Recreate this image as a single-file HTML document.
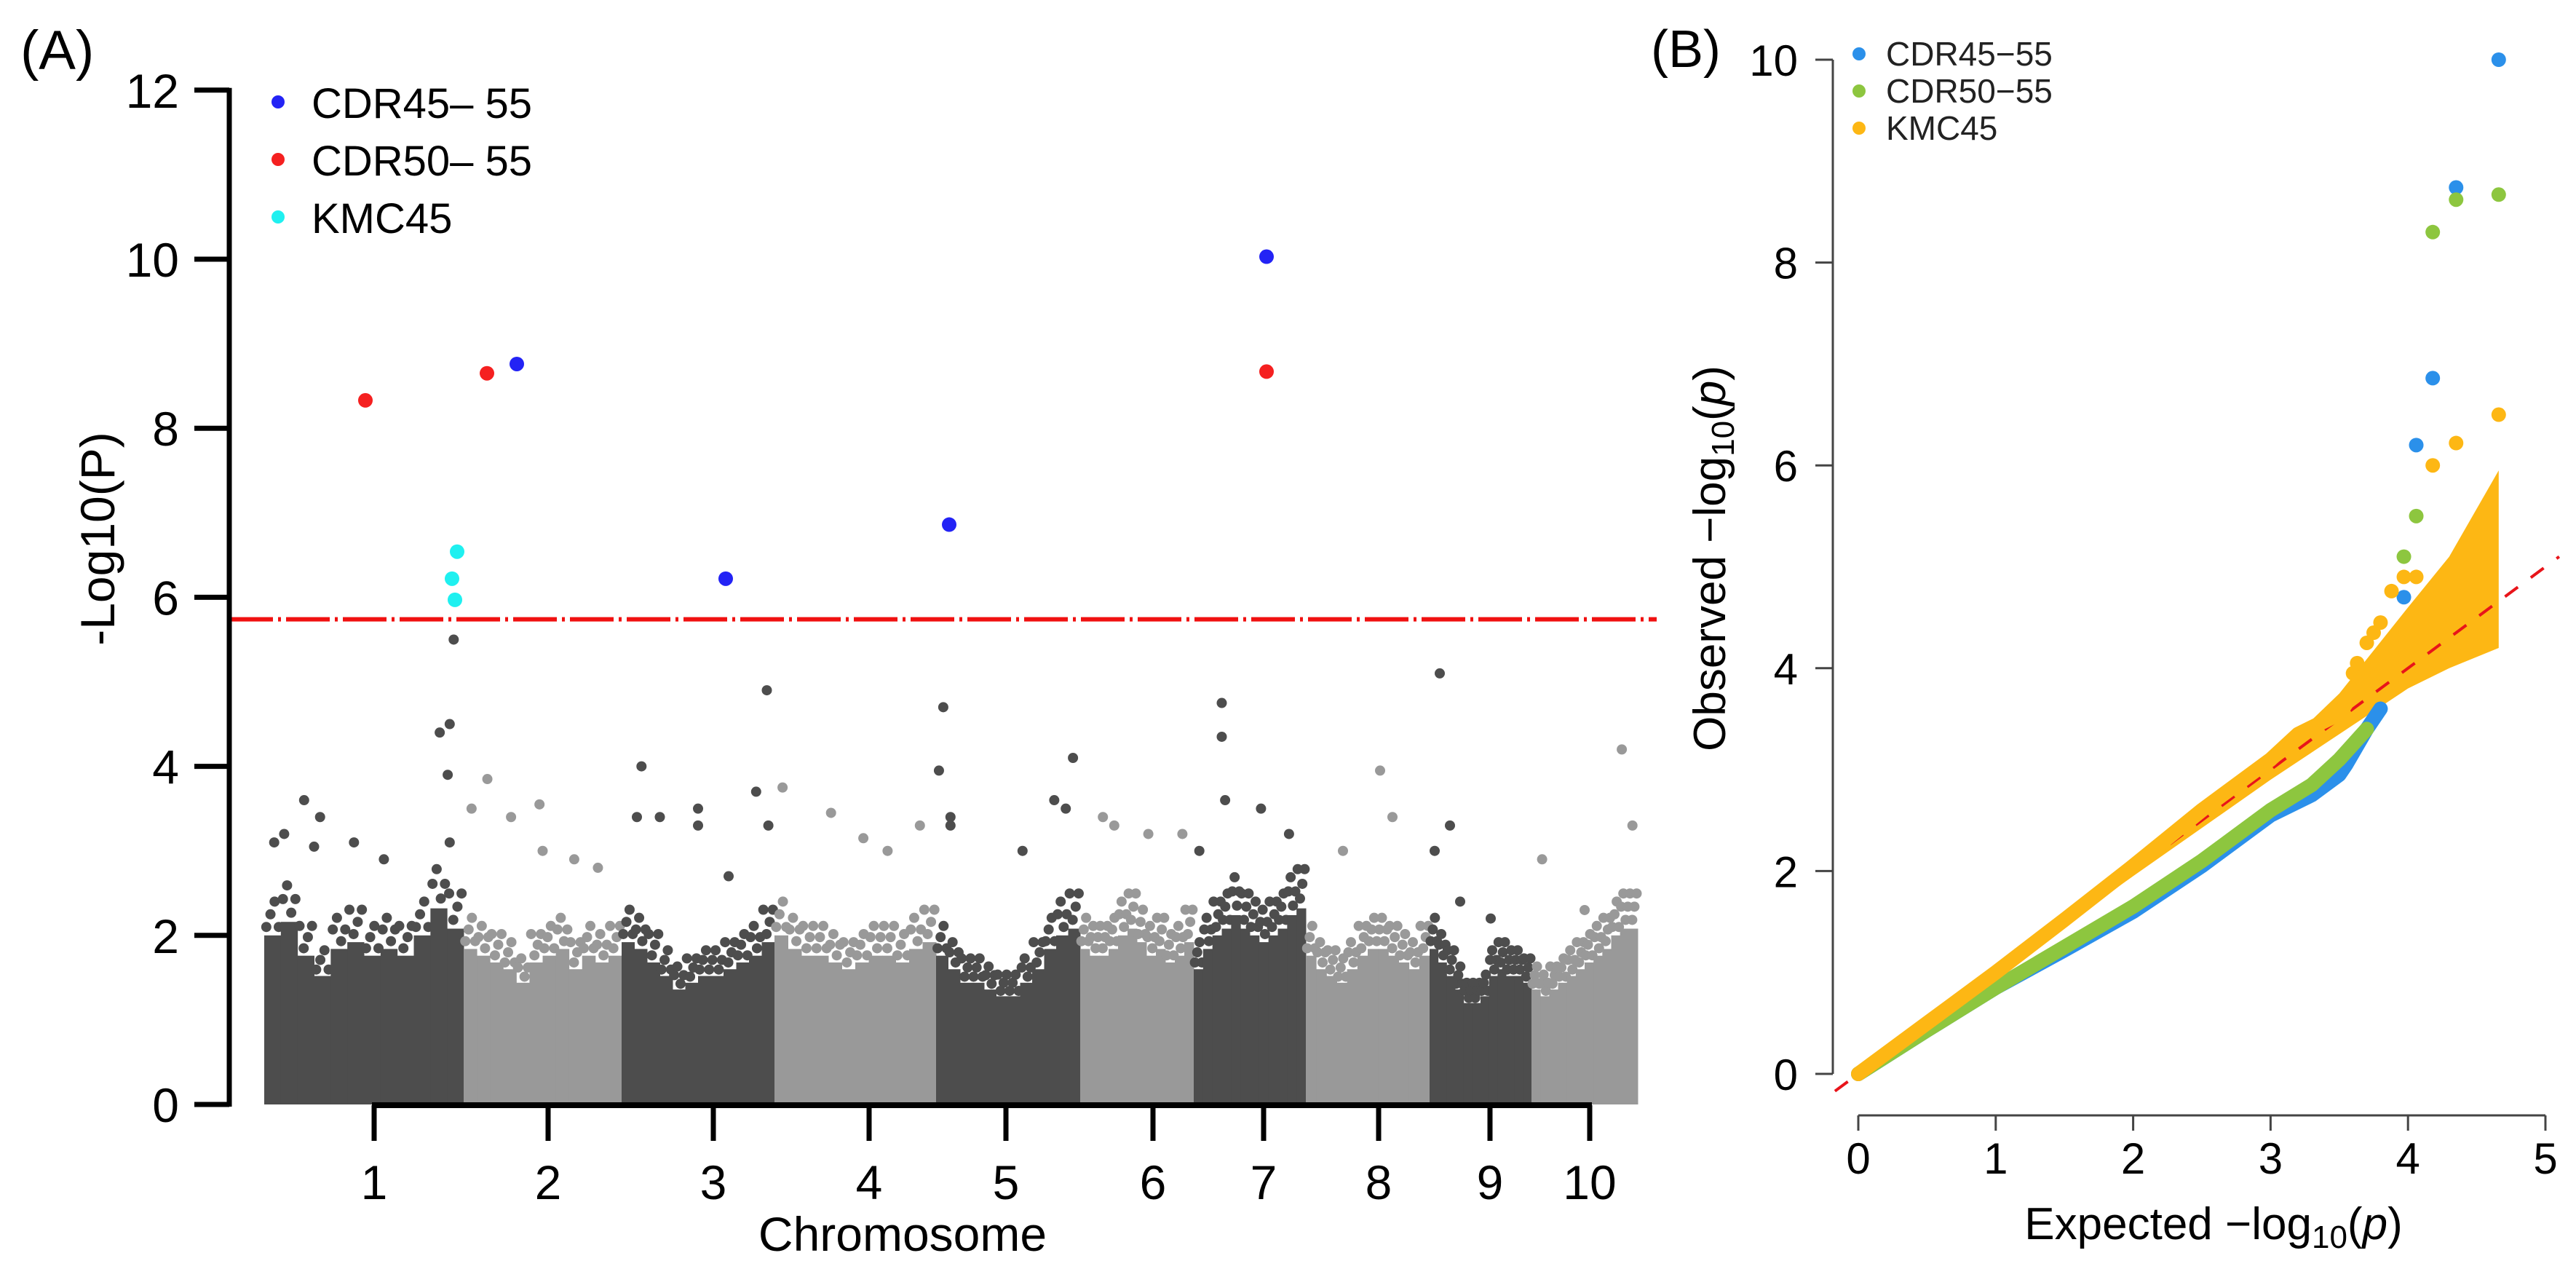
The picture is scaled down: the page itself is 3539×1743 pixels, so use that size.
<!DOCTYPE html>
<html><head><meta charset="utf-8">
<style>
html,body{margin:0;padding:0;background:#fff;}
svg{display:block;font-family:"Liberation Sans",Arial,sans-serif;}
</style></head>
<body>
<svg id="fig" width="3539" height="1743" viewBox="0 0 3539 1743" xmlns="http://www.w3.org/2000/svg">
<g id="panelA"></g>
<g id="panelB"></g>
</svg>
<script>
// ---------- Panel A data ----------
const chromosomes = ["1","2","3","4","5","6","7","8","9","10"];
const chromStarts = [0,274,491,701,923,1121,1277,1431,1601,1741];
const chromEnds   = [274,491,701,923,1121,1277,1431,1601,1741,1887];
const chromTickPos = [151,390,617,831,1019,1221,1373,1531,1684,1821];
const yTicksA = [0,2,4,6,8,10,12];
const threshold = 5.74;
const binTops = [
 [2.5,2.7,2.2,1.9,2.3,2.4,2.2,2.3,2.2,2.5,2.9,2.6],
 [2.3,2.2,2.1,2.0,1.8,2.1,2.2,2.3,2.0,2.2,2.1,2.2],
 [2.4,2.3,2.1,1.9,1.7,1.8,1.9,1.9,2.0,2.1,2.2,2.4],
 [2.5,2.3,2.2,2.2,2.1,2.0,2.1,2.2,2.2,2.1,2.3,2.4],
 [2.2,2.0,1.8,1.8,1.7,1.6,1.6,1.8,2.0,2.3,2.5,2.6],
 [2.3,2.2,2.2,2.3,2.5,2.6,2.4,2.2,2.3,2.1,2.2,2.4],
 [2.0,2.3,2.5,2.6,2.8,2.6,2.5,2.4,2.5,2.6,2.8,2.9],
 [2.2,2.0,1.9,1.8,2.0,2.2,2.3,2.3,2.2,2.1,2.0,2.2],
 [2.3,2.1,1.9,1.7,1.5,1.5,1.6,1.9,2.0,1.9,1.9,1.8],
 [1.7,1.6,1.7,1.8,1.9,2.0,2.1,2.2,2.3,2.5,2.6,2.6]
];
const outChrom = [0,0,0,0,0,0,0,0,0,0,0,0, 1,1,1,1,1,1,1, 2,2,2,2,2,2,2,2,2, 3,3,3,3,3, 4,4,4,4,4,4,4,4, 5,5,5,5, 6,6,6,6,6,6, 7,7,7, 8,8,8,8,8, 9,9,9,9];
const outFrac  = [0.05,0.1,0.2,0.28,0.25,0.45,0.6,0.88,0.93,0.92,0.95,0.93, 0.05,0.15,0.3,0.48,0.5,0.7,0.85, 0.1,0.13,0.25,0.5,0.5,0.7,0.88,0.95,0.96, 0.05,0.35,0.55,0.7,0.9, 0.02,0.05,0.1,0.1,0.6,0.82,0.9,0.95, 0.2,0.3,0.6,0.9, 0.05,0.25,0.25,0.28,0.6,0.85, 0.3,0.6,0.7, 0.05,0.2,0.1,0.3,0.6, 0.1,0.5,0.85,0.95];
const outVal   = [3.1,3.2,3.6,3.4,3.05,3.1,2.9,4.4,4.5,3.9,5.5,3.1, 3.5,3.85,3.4,3.55,3.0,2.9,2.8, 3.4,4.0,3.4,3.5,3.3,2.7,3.7,4.9,3.3, 3.75,3.45,3.15,3.0,3.3, 3.95,4.7,3.4,3.3,3.0,3.6,3.5,4.1, 3.4,3.3,3.2,3.2, 3.0,4.75,4.35,3.6,3.5,3.2, 3.0,3.95,3.4, 3.0,3.3,5.1,2.4,2.2, 2.9,2.3,4.2,3.3];
const sigPos  = [347,634,941,1377,139,306,1377,265,258,262];
const sigVal  = [8.76,6.22,6.86,10.03,8.33,8.65,8.67,6.54,6.22,5.97];
const sigSeries = [0,0,0,0,1,1,1,2,2,2];
const seriesA = ["CDR45\u2013 55","CDR50\u2013 55","KMC45"];
const colorsA = ["#2323f5","#f52020","#1ff0f0"];

// ---------- Panel B data ----------
const yTicksB = [0,2,4,6,8,10];
const xTicksB = [0,1,2,3,4,5];
const seriesB = ["CDR45\u221255","CDR50\u221255","KMC45"];
const colorsB = ["#2b90ea","#8dc63f","#fdb714"];
const blueX = [0,0.5,1,1.5,2,2.5,3,3.3,3.5,3.55,3.7,3.8];
const blueY = [0,0.43,0.85,1.22,1.6,2.05,2.55,2.75,2.95,3.05,3.4,3.6];
const greenX = [0,0.5,1,1.5,2,2.5,3,3.3,3.5,3.7];
const greenY = [0,0.43,0.85,1.25,1.65,2.1,2.6,2.85,3.1,3.4];
const orangeX = [0,0.5,1,1.5,2,2.5,3,3.2,3.5,3.55];
const orangeY = [0,0.5,1.0,1.52,2.05,2.6,3.1,3.35,3.55,3.65];
const bluePtX = [3.97,4.06,4.18,4.35,4.66];
const bluePtY = [4.7,6.2,6.86,8.74,10.0];
const greenPtX = [3.97,4.06,4.18,4.35,4.66];
const greenPtY = [5.1,5.5,8.3,8.62,8.67];
const orangePtX = [3.6,3.63,3.7,3.75,3.8,3.88,3.97,4.06,4.18,4.35,4.66];
const orangePtY = [3.95,4.05,4.25,4.35,4.45,4.76,4.9,4.9,6.0,6.22,6.5];
const bandX = [0,1,2,3,3.5,4,4.3,4.66];
const bandUpper = [0.02,1.02,2.05,3.1,3.75,4.6,5.1,5.95];
const bandLower = [0,0.98,1.95,2.9,3.35,3.8,4.0,4.2];

const NS="http://www.w3.org/2000/svg";
function mk(tag, attrs, parent){const e=document.createElementNS(NS,tag);for(const k in attrs)e.setAttribute(k,attrs[k]);parent.appendChild(e);return e;}

// ---------- Panel A ----------
(function(){
const g=document.getElementById('panelA');
const x0px=363, x1px=2250, gmax=1887;
const xA=v=>x0px+(x1px-x0px)*v/gmax;
const yA=v=>1517-116.1*v;
for(let c=0;c<chromosomes.length;c++){
  const col = c%2===0?"#4d4d4d":"#999999";
  const s=chromStarts[c], e=chromEnds[c], tops=binTops[c], n=tops.length;
  const cg=mk('g',{},g);
  
  
  for(let i=0;i<n;i++){
    const a=s+(e-s)*i/n, b=s+(e-s)*(i+1)/n;
    const r=mk('rect',{x:xA(a),y:yA(tops[i]*0.8),width:xA(b)-xA(a)+0.5,height:yA(0)-yA(tops[i]*0.8),fill:col},cg);
    
    
    for(let k=0;k<4;k++){
      const d=mk('circle',{cx:xA(a+(b-a)*(k+0.5)/4),cy:yA(tops[i]*(0.84+0.06*((k*7+i)%3))),r:7,fill:col},cg);
      
      
    }
  }
}
for(let i=0;i<outVal.length;i++){
  const c=outChrom[i], s=chromStarts[c], e=chromEnds[c];
  const d=mk('circle',{cx:xA(s+(e-s)*outFrac[i]),cy:yA(outVal[i]),r:7,fill:c%2===0?"#4d4d4d":"#999999"},g);
  
  
}
const th=mk('line',{x1:315,x2:2276,y1:yA(threshold),y2:yA(threshold),stroke:"#f01010","stroke-width":6,"stroke-dasharray":"60 7 4 7"},g);


for(let i=0;i<sigVal.length;i++){
  const d=mk('circle',{cx:xA(sigPos[i]),cy:yA(sigVal[i]),r:10,fill:colorsA[sigSeries[i]]},g);
  
  
}
const ya=mk('line',{x1:315,x2:315,y1:yA(12)-3,y2:yA(0)+3,stroke:"#000","stroke-width":7},g);


for(const t of yTicksA){
  const l=mk('line',{x1:267,x2:315,y1:yA(t),y2:yA(t),stroke:"#000","stroke-width":7},g);
  
  
  const tx=mk('text',{x:246,y:yA(t)+24,"text-anchor":"end","font-size":66},g);
  tx.textContent=t;
  
  
}
const xa=mk('line',{x1:xA(chromTickPos[0])-3,x2:xA(chromTickPos[9])+3,y1:1518,y2:1518,stroke:"#000","stroke-width":8},g);


for(let i=0;i<chromosomes.length;i++){
  const l=mk('line',{x1:xA(chromTickPos[i]),x2:xA(chromTickPos[i]),y1:1518,y2:1567,stroke:"#000","stroke-width":7},g);
  
  
  const tx=mk('text',{x:xA(chromTickPos[i]),y:1647,"text-anchor":"middle","font-size":66},g);
  tx.textContent=chromosomes[i];
  
  
}
const xt=mk('text',{x:1240,y:1718,"text-anchor":"middle","font-size":66},g);
xt.textContent="Chromosome";


const yt=mk('text',{x:0,y:0,"text-anchor":"middle","font-size":66,transform:"translate(157,740) rotate(-90)"},g);
yt.textContent="-Log10(P)";


const pl=mk('text',{x:28,y:95,"font-size":76},g);
pl.textContent="(A)";


for(let i=0;i<3;i++){
  const lg=mk('g',{},g);
  
  
  mk('circle',{cx:382,cy:140+79*i,r:9,fill:colorsA[i]},lg);
  const t=mk('text',{x:428,y:162+79*i,"font-size":58},lg);
  t.textContent=seriesA[i];
}
})();

// ---------- Panel B ----------
(function(){
const g=document.getElementById('panelB');
const xB=v=>2553+188.8*v;
const yB=v=>1475-139.3*v;
let d="M"+bandX.map((x,i)=>xB(x)+","+yB(bandUpper[i])).join(" L");
for(let i=bandX.length-1;i>=0;i--) d+=" L"+xB(bandX[i])+","+yB(bandLower[i]);
const band=mk('path',{d:d+"Z",fill:colorsB[2]},g);


const diag=mk('line',{x1:xB(-0.17),y1:yB(-0.17),x2:xB(5.1),y2:yB(5.1),stroke:"#e8141a","stroke-width":4,"stroke-dasharray":"22 22"},g);


const curves=[[blueX,blueY,bluePtX,bluePtY],[greenX,greenY,greenPtX,greenPtY],[orangeX,orangeY,orangePtX,orangePtY]];
for(let s=0;s<3;s++){
  const [cx,cy,px,py]=curves[s];
  const p=mk('polyline',{points:cx.map((x,i)=>xB(x)+","+yB(cy[i])).join(" "),fill:"none",stroke:colorsB[s],"stroke-width":20,"stroke-linecap":"round","stroke-linejoin":"round"},g);
  
  
  for(let i=0;i<px.length;i++){
    const c=mk('circle',{cx:xB(px[i]),cy:yB(py[i]),r:10,fill:colorsB[s]},g);
    
    
  }
}
const ax="#444";
const ya=mk('line',{x1:2518,x2:2518,y1:yB(10),y2:yB(0),stroke:ax,"stroke-width":3},g);


for(const t of yTicksB){
  const l=mk('line',{x1:2494,x2:2518,y1:yB(t),y2:yB(t),stroke:ax,"stroke-width":3},g);
  
  
  const tx=mk('text',{x:2470,y:yB(t)+22,"text-anchor":"end","font-size":60},g);
  tx.textContent=t;
  
  
}
const xa=mk('line',{x1:xB(0),x2:xB(5),y1:1532,y2:1532,stroke:ax,"stroke-width":3},g);


for(const t of xTicksB){
  const l=mk('line',{x1:xB(t),x2:xB(t),y1:1532,y2:1553,stroke:ax,"stroke-width":3},g);
  
  
  const tx=mk('text',{x:xB(t),y:1612,"text-anchor":"middle","font-size":60},g);
  tx.textContent=t;
  
  
}
const xt=mk('text',{x:3041,y:1702,"text-anchor":"middle","font-size":62},g);
xt.innerHTML='Expected \u2212log<tspan font-size="44" dy="12">10</tspan><tspan dy="-12">(</tspan><tspan font-style="italic">p</tspan>)';


const yt=mk('text',{x:0,y:0,"text-anchor":"middle","font-size":62,transform:"translate(2370,767) rotate(-90)"},g);
yt.innerHTML='Observed \u2212log<tspan font-size="44" dy="12">10</tspan><tspan dy="-12">(</tspan><tspan font-style="italic">p</tspan>)';


const pl=mk('text',{x:2268,y:92,"font-size":72},g);
pl.textContent="(B)";


for(let i=0;i<3;i++){
  const lg=mk('g',{},g);
  
  
  mk('circle',{cx:2554,cy:74+51*i,r:9,fill:colorsB[i]},lg);
  const t=mk('text',{x:2591,y:90+51*i,"font-size":46,fill:"#222"},lg);
  t.textContent=seriesB[i];
}
})();
</script>
</body></html>
